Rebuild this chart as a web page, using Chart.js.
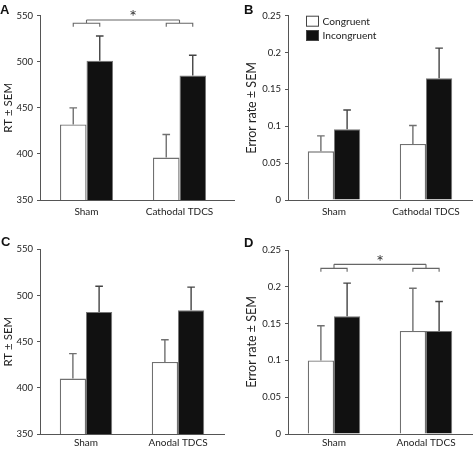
<!DOCTYPE html>
<html><head><meta charset="utf-8">
<script src="https://cdn.jsdelivr.net/npm/chart.js@4/dist/chart.umd.min.js"></script>
<style>
html,body{margin:0;padding:0;background:#fff;width:474px;height:449px;overflow:hidden;}
canvas{position:absolute;}
.lbl{position:absolute;font:bold 13px "Liberation Sans",Arial,sans-serif;line-height:13px;color:#111;}
</style></head><body>
<canvas id="cA" width="237" height="225" style="left:0;top:0"></canvas>
<canvas id="cB" width="237" height="225" style="left:237px;top:0"></canvas>
<canvas id="cC" width="237" height="224" style="left:0;top:225px"></canvas>
<canvas id="cD" width="237" height="224" style="left:237px;top:225px"></canvas>
<div class="lbl" style="left:0;top:2.5px">A</div>
<div class="lbl" style="left:244px;top:2.5px">B</div>
<div class="lbl" style="left:1px;top:234.5px">C</div>
<div class="lbl" style="left:244px;top:235.5px">D</div>
<script>
// ---------- data ----------
const seriesNames = ['Congruent', 'Incongruent'];
const categoriesCathodal = ['Sham', 'Cathodal TDCS'];
const categoriesAnodal = ['Sham', 'Anodal TDCS'];

const rtCathodalCongruent = [432, 396];
const rtCathodalIncongruent = [501, 485];
const rtCathodalCongruentSem = [18, 25];
const rtCathodalIncongruentSem = [27, 22];

const errCathodalCongruent = [0.066, 0.076];
const errCathodalIncongruent = [0.096, 0.165];
const errCathodalCongruentSem = [0.021, 0.025];
const errCathodalIncongruentSem = [0.026, 0.041];

const rtAnodalCongruent = [410, 428];
const rtAnodalIncongruent = [482, 484];
const rtAnodalCongruentSem = [27, 24];
const rtAnodalIncongruentSem = [28, 25];

const errAnodalCongruent = [0.10, 0.14];
const errAnodalIncongruent = [0.16, 0.14];
const errAnodalCongruentSem = [0.047, 0.058];
const errAnodalIncongruentSem = [0.045, 0.040];

const rtTicks = [350, 400, 450, 500, 550];
const errTicks = [0, 0.05, 0.1, 0.15, 0.2, 0.25];

// ---------- plugins ----------
const FONT = 'Lato, "Liberation Sans", sans-serif';

const errorBars = {
  id: 'errorBars',
  afterDatasetsDraw(chart) {
    const ctx = chart.ctx, ys = chart.scales.y;
    chart.data.datasets.forEach((ds, i) => {
      const meta = chart.getDatasetMeta(i);
      meta.data.forEach((bar, j) => {
        const top = ys.getPixelForValue(ds.data[j] + ds.sem[j]);
        ctx.save();
        ctx.strokeStyle = ds.errColor;
        ctx.lineWidth = 1.4;
        ctx.beginPath();
        ctx.moveTo(bar.x, bar.y);
        ctx.lineTo(bar.x, top);
        ctx.moveTo(bar.x - 3.8, top);
        ctx.lineTo(bar.x + 3.8, top);
        ctx.stroke();
        ctx.restore();
      });
    });
  }
};

const extras = {
  id: 'extras',
  afterDraw(chart, args, o) {
    const ctx = chart.ctx, ys = chart.scales.y, xs = chart.scales.x, ca = chart.chartArea;
    ctx.save();
    if (o.extendAxis) {
      ctx.strokeStyle = '#555'; ctx.lineWidth = 1;
      ctx.beginPath();
      ctx.moveTo(ca.right, ca.bottom + 0.5);
      ctx.lineTo(ca.right + o.extendAxis, ca.bottom + 0.5);
      ctx.stroke();
    }
    if (o.bracket) {
      const b = o.bracket;
      const m0 = chart.getDatasetMeta(0), m1 = chart.getDatasetMeta(1);
      const yLow = ys.getPixelForValue(b.low), yLeg = ys.getPixelForValue(b.leg);
      const yTop = ys.getPixelForValue(b.top), yStar = ys.getPixelForValue(b.star);
      ctx.strokeStyle = '#666'; ctx.lineWidth = 1.1;
      ctx.beginPath();
      const centers = [];
      [0, 1].forEach(c => {
        const xl = m0.data[c].x, xr = m1.data[c].x, xc = xs.getPixelForValue(c);
        centers.push(xc);
        ctx.moveTo(xl, yLeg); ctx.lineTo(xl, yLow); ctx.lineTo(xr, yLow); ctx.lineTo(xr, yLeg);
        ctx.moveTo(xc, yLow); ctx.lineTo(xc, yTop);
      });
      ctx.moveTo(centers[0], yTop); ctx.lineTo(centers[1], yTop);
      ctx.stroke();
      ctx.fillStyle = '#333';
      ctx.font = '18px ' + FONT;
      ctx.textAlign = 'center'; ctx.textBaseline = 'middle';
      ctx.fillText('*', (centers[0] + centers[1]) / 2, yStar + 4);
    }
    if (o.legend) {
      const x0 = ca.left + 18.5, y0 = ca.top + 0.5;
      ctx.lineWidth = 1; ctx.strokeStyle = '#444';
      ctx.font = '10.2px ' + FONT; ctx.textAlign = 'left'; ctx.textBaseline = 'middle';
      chart.data.datasets.forEach((ds, i) => {
        const y = y0 + i * 14.3;
        ctx.fillStyle = ds.backgroundColor;
        ctx.fillRect(x0, y, 12, 10);
        ctx.strokeRect(x0, y, 12, 10);
        ctx.fillStyle = '#222';
        ctx.fillText(ds.label, x0 + 16, y + 5.5);
      });
    }
    ctx.restore();
  }
};

function makePanel(id, p) {
  const fmt = v => p.decimals ? String(Number(v.toFixed(2))) : String(v);
  return new Chart(document.getElementById(id), {
    type: 'bar',
    data: {
      labels: p.labels,
      datasets: [
        { label: seriesNames[0], data: p.cong, sem: p.congSem, backgroundColor: '#ffffff',
          borderColor: '#707070', borderWidth: 1.3, errColor: '#707070' },
        { label: seriesNames[1], data: p.incong, sem: p.incongSem, backgroundColor: '#111111',
          borderColor: '#777777', borderWidth: 1, errColor: '#444444' }
      ]
    },
    options: {
      responsive: false, animation: false, devicePixelRatio: 1,
      layout: { padding: p.pad },
      datasets: { bar: { categoryPercentage: 0.57, barPercentage: 1, borderSkipped: 'start' } },
      plugins: {
        legend: { display: false }, tooltip: { enabled: false },
        extras: { extendAxis: p.extendAxis || 0, bracket: p.bracket || null, legend: !!p.legend }
      },
      scales: {
        x: {
          grid: { display: false, drawTicks: false, tickLength: 0 },
          border: { display: true, color: '#555', width: 1 },
          ticks: { color: '#222', font: { family: FONT, size: 10 }, padding: p.xPad, maxRotation: 0 },
          afterFit: s => { s.height = p.xHeight; }
        },
        y: {
          min: p.ticks[0], max: p.ticks[p.ticks.length - 1],
          afterBuildTicks: s => { s.ticks = p.ticks.map(v => ({ value: v })); },
          grid: { display: true, drawOnChartArea: false, drawTicks: true, tickLength: 3, color: '#555' },
          border: { display: true, color: '#555', width: 1 },
          ticks: { color: '#222', font: { family: FONT, size: 9.5 }, padding: 4, callback: v => fmt(v) },
          title: { display: true, text: p.yTitle, color: '#222', font: { family: FONT, size: p.titleSize },
                   padding: { top: p.titlePad, bottom: 0 } },
          afterFit: s => { s.width = p.yWidth; }
        }
      }
    },
    plugins: [errorBars, extras]
  });
}

makePanel('cA', {
  labels: categoriesCathodal, cong: rtCathodalCongruent, incong: rtCathodalIncongruent,
  congSem: rtCathodalCongruentSem, incongSem: rtCathodalIncongruentSem,
  ticks: rtTicks, yTitle: 'RT ± SEM', titleSize: 11.5, titlePad: 1.5,
  pad: { top: 15.7, right: 11, left: 0, bottom: 0 }, yWidth: 40, xHeight: 25, xPad: 6,
  extendAxis: 9, bracket: { low: 541.8, leg: 538, top: 545.4, star: 553 }
});
makePanel('cB', {
  labels: categoriesCathodal, cong: errCathodalCongruent, incong: errCathodalIncongruent,
  congSem: errCathodalCongruentSem, incongSem: errCathodalIncongruentSem,
  ticks: errTicks, decimals: true, yTitle: 'Error rate ± SEM', titleSize: 12.5, titlePad: 7,
  pad: { top: 15.7, right: 2, left: 0, bottom: 0 }, yWidth: 51, xHeight: 25, xPad: 6,
  legend: true
});
makePanel('cC', {
  labels: categoriesAnodal, cong: rtAnodalCongruent, incong: rtAnodalIncongruent,
  congSem: rtAnodalCongruentSem, incongSem: rtAnodalIncongruentSem,
  ticks: rtTicks, yTitle: 'RT ± SEM', titleSize: 11.5, titlePad: 1.5,
  pad: { top: 24.3, right: 13, left: 0, bottom: 0 }, yWidth: 40, xHeight: 15, xPad: 2.5
});
makePanel('cD', {
  labels: categoriesAnodal, cong: errAnodalCongruent, incong: errAnodalIncongruent,
  congSem: errAnodalCongruentSem, incongSem: errAnodalIncongruentSem,
  ticks: errTicks, decimals: true, yTitle: 'Error rate ± SEM', titleSize: 12.5, titlePad: 7,
  pad: { top: 25, right: 2, left: 0, bottom: 0 }, yWidth: 51, xHeight: 15, xPad: 2.5,
  bracket: { low: 0.225, leg: 0.2205, top: 0.2305, star: 0.2385 }
});
</script>
</body></html>
